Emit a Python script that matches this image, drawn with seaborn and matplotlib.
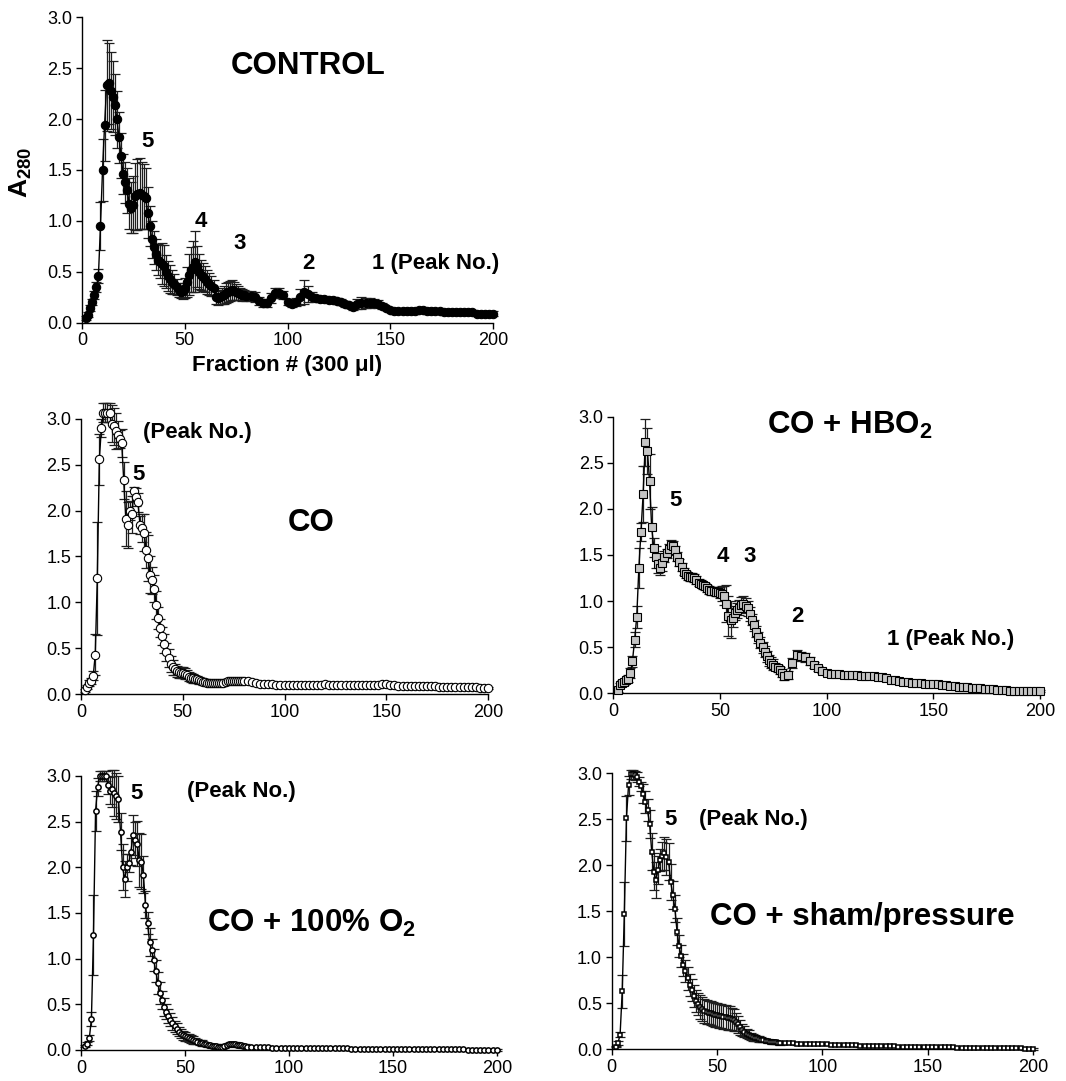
import numpy as np
import pandas as pd
import matplotlib
matplotlib.use('Agg')
import matplotlib.pyplot as plt
import seaborn as sns

sns.set_style("ticks")
plt.rcParams['font.family'] = ['Liberation Sans', 'DejaVu Sans']
plt.rcParams['mathtext.fontset'] = 'custom'
plt.rcParams['mathtext.rm'] = 'Liberation Sans'
plt.rcParams['mathtext.bf'] = 'Liberation Sans:bold'
plt.rcParams['text.color'] = 'black'
plt.rcParams['axes.labelcolor'] = 'black'

# fraction numbers: every fraction up to 80, every second one after that
fractions = list(range(2, 81)) + list(range(82, 201, 2))

control_mean = [
    0.05, 0.08, 0.14, 0.20, 0.27, 0.35, 0.46, 0.95, 1.50, 1.94,
    2.33, 2.35, 2.28, 2.22, 2.14, 2.00, 1.82, 1.64, 1.46, 1.38,
    1.30, 1.17, 1.13, 1.16, 1.24, 1.26, 1.27, 1.25, 1.24, 1.22,
    1.08, 0.95, 0.82, 0.74, 0.67, 0.62, 0.60, 0.58, 0.56, 0.50,
    0.46, 0.43, 0.40, 0.38, 0.35, 0.32, 0.30, 0.31, 0.34, 0.40,
    0.47, 0.52, 0.55, 0.60, 0.55, 0.50, 0.47, 0.45, 0.43, 0.40,
    0.38, 0.36, 0.34, 0.25, 0.24, 0.25, 0.26, 0.27, 0.29, 0.30,
    0.31, 0.32, 0.31, 0.30, 0.29, 0.28, 0.27, 0.27, 0.26,
    0.26, 0.25, 0.21, 0.19, 0.19, 0.24, 0.29, 0.29, 0.27, 0.20,
    0.18, 0.20, 0.25, 0.30, 0.28, 0.25, 0.24, 0.23, 0.23, 0.22,
    0.22, 0.21, 0.20, 0.18, 0.17, 0.15, 0.18, 0.19, 0.19, 0.19,
    0.19, 0.18, 0.16, 0.14, 0.12, 0.11, 0.11, 0.11, 0.11, 0.11,
    0.11, 0.12, 0.12, 0.11, 0.11, 0.11, 0.11, 0.10, 0.10, 0.10,
    0.10, 0.10, 0.10, 0.10, 0.10, 0.09, 0.09, 0.09, 0.09, 0.09,
]
control_sd = [
    0.02, 0.02, 0.03, 0.03, 0.04, 0.05, 0.07, 0.24, 0.30, 0.35,
    0.45, 0.40, 0.38, 0.35, 0.30, 0.28, 0.25, 0.22, 0.20, 0.20,
    0.22, 0.25, 0.25, 0.28, 0.33, 0.35, 0.35, 0.33, 0.32, 0.30,
    0.25, 0.20, 0.18, 0.16, 0.15, 0.15, 0.16, 0.20, 0.20, 0.16,
    0.15, 0.14, 0.12, 0.10, 0.08, 0.07, 0.06, 0.08, 0.10, 0.15,
    0.20, 0.22, 0.25, 0.30, 0.20, 0.17, 0.15, 0.14, 0.13, 0.12,
    0.11, 0.10, 0.08, 0.07, 0.07, 0.07, 0.08, 0.09, 0.10, 0.10,
    0.10, 0.10, 0.09, 0.08, 0.07, 0.06, 0.06, 0.05, 0.05,
    0.05, 0.05, 0.04, 0.04, 0.04, 0.05, 0.05, 0.05, 0.04, 0.03,
    0.03, 0.04, 0.08, 0.12, 0.08, 0.05, 0.03, 0.03, 0.03, 0.03,
    0.03, 0.03, 0.03, 0.03, 0.03, 0.03, 0.05, 0.06, 0.05, 0.05,
    0.04, 0.04, 0.03, 0.02, 0.02, 0.02, 0.02, 0.02, 0.02, 0.02,
    0.02, 0.02, 0.02, 0.02, 0.02, 0.02, 0.02, 0.02, 0.02, 0.02,
    0.02, 0.02, 0.02, 0.02, 0.02, 0.02, 0.02, 0.02, 0.02, 0.02,
]

co_mean = [
    0.04, 0.08, 0.12, 0.14, 0.20, 0.43, 1.26, 2.56, 2.90, 3.07,
    3.07, 3.07, 3.07, 2.95, 2.92, 2.87, 2.83, 2.78, 2.74, 2.33,
    1.91, 1.84, 2.00, 1.96, 2.21, 2.15, 2.09, 1.84, 1.81, 1.76,
    1.57, 1.48, 1.30, 1.24, 1.15, 0.97, 0.83, 0.72, 0.63, 0.55,
    0.46, 0.39, 0.33, 0.29, 0.27, 0.25, 0.24, 0.23, 0.23, 0.22,
    0.21, 0.19, 0.18, 0.17, 0.16, 0.16, 0.15, 0.14, 0.13, 0.13,
    0.12, 0.12, 0.12, 0.12, 0.12, 0.12, 0.12, 0.12, 0.12, 0.13,
    0.14, 0.14, 0.145, 0.145, 0.145, 0.14, 0.14, 0.14, 0.14,
    0.14, 0.135, 0.12, 0.11, 0.11, 0.11, 0.105, 0.10, 0.10, 0.10,
    0.10, 0.10, 0.10, 0.10, 0.10, 0.10, 0.10, 0.10, 0.10, 0.105,
    0.10, 0.10, 0.10, 0.10, 0.10, 0.10, 0.10, 0.10, 0.10, 0.10,
    0.10, 0.10, 0.10, 0.11, 0.105, 0.10, 0.095, 0.09, 0.09, 0.09,
    0.09, 0.09, 0.09, 0.09, 0.085, 0.085, 0.085, 0.08, 0.08, 0.08,
    0.08, 0.08, 0.08, 0.075, 0.075, 0.075, 0.075, 0.07, 0.07, 0.07,
]
co_sd = [
    0.02, 0.02, 0.03, 0.03, 0.05, 0.22, 0.62, 0.28, 0.10, 0.10,
    0.10, 0.10, 0.10, 0.20, 0.20, 0.20, 0.15, 0.10, 0.15, 0.20,
    0.30, 0.25, 0.10, 0.20, 0.05, 0.10, 0.10, 0.10, 0.15, 0.20,
    0.20, 0.25, 0.20, 0.15, 0.15, 0.15, 0.12, 0.10, 0.10, 0.10,
    0.10, 0.10, 0.09, 0.08, 0.06, 0.06, 0.06, 0.06, 0.06, 0.06,
    0.05, 0.05, 0.05, 0.05, 0.04, 0.04, 0.04, 0.03, 0.03, 0.03,
    0.02, 0.02, 0.02, 0.02, 0.02, 0.02, 0.02, 0.02, 0.02, 0.02,
    0.02, 0.02, 0.02, 0.02, 0.02, 0.02, 0.02, 0.02, 0.02,
    0.02, 0.02, 0.02, 0.02, 0.02, 0.02, 0.02, 0.02, 0.02, 0.02,
    0.02, 0.02, 0.02, 0.02, 0.02, 0.02, 0.02, 0.02, 0.02, 0.02,
    0.01, 0.01, 0.01, 0.01, 0.01, 0.01, 0.01, 0.01, 0.01, 0.01,
    0.01, 0.01, 0.01, 0.01, 0.01, 0.01, 0.01, 0.01, 0.01, 0.01,
    0.01, 0.01, 0.01, 0.01, 0.01, 0.01, 0.01, 0.01, 0.01, 0.01,
    0.01, 0.01, 0.01, 0.01, 0.01, 0.01, 0.01, 0.01, 0.01, 0.01,
]

hbo2_mean = [
    0.04, 0.09, 0.11, 0.12, 0.14, 0.16, 0.22, 0.35, 0.58, 0.83,
    1.36, 1.75, 2.16, 2.72, 2.63, 2.30, 1.80, 1.58, 1.48, 1.40,
    1.36, 1.41, 1.48, 1.52, 1.57, 1.61, 1.60, 1.55, 1.48, 1.42,
    1.37, 1.32, 1.29, 1.27, 1.26, 1.26, 1.25, 1.23, 1.20, 1.19,
    1.17, 1.16, 1.14, 1.12, 1.11, 1.11, 1.10, 1.10, 1.09, 1.08,
    1.06, 0.97, 0.84, 0.80, 0.82, 0.87, 0.90, 0.93, 0.96, 0.97,
    0.95, 0.92, 0.86, 0.80, 0.74, 0.67, 0.61, 0.55, 0.50, 0.45,
    0.40, 0.36, 0.33, 0.31, 0.29, 0.27, 0.25, 0.22, 0.19,
    0.20, 0.33, 0.42, 0.40, 0.39, 0.35, 0.31, 0.27, 0.24, 0.22,
    0.21, 0.21, 0.21, 0.20, 0.20, 0.20, 0.20, 0.19, 0.19, 0.19,
    0.19, 0.18, 0.18, 0.17, 0.15, 0.14, 0.13, 0.12, 0.12, 0.11,
    0.11, 0.11, 0.10, 0.10, 0.10, 0.10, 0.09, 0.09, 0.08, 0.08,
    0.07, 0.07, 0.07, 0.06, 0.06, 0.06, 0.05, 0.05, 0.05, 0.04,
    0.04, 0.04, 0.03, 0.03, 0.03, 0.03, 0.03, 0.03, 0.03, 0.03,
]
hbo2_sd = [
    0.02, 0.02, 0.03, 0.03, 0.03, 0.04, 0.05, 0.06, 0.08, 0.12,
    0.22, 0.10, 0.30, 0.25, 0.25, 0.30, 0.22, 0.10, 0.12, 0.10,
    0.08, 0.08, 0.06, 0.05, 0.05, 0.05, 0.05, 0.05, 0.05, 0.04,
    0.04, 0.04, 0.04, 0.04, 0.04, 0.04, 0.04, 0.04, 0.04, 0.04,
    0.04, 0.04, 0.04, 0.04, 0.04, 0.04, 0.04, 0.04, 0.06, 0.08,
    0.10, 0.20, 0.22, 0.20, 0.10, 0.08, 0.08, 0.08, 0.08, 0.08,
    0.08, 0.08, 0.08, 0.06, 0.06, 0.06, 0.06, 0.06, 0.06, 0.06,
    0.06, 0.06, 0.06, 0.06, 0.04, 0.04, 0.04, 0.04, 0.04,
    0.04, 0.05, 0.05, 0.05, 0.05, 0.04, 0.03, 0.03, 0.02, 0.02,
    0.02, 0.02, 0.02, 0.02, 0.02, 0.02, 0.02, 0.02, 0.02, 0.02,
    0.02, 0.02, 0.02, 0.02, 0.02, 0.02, 0.02, 0.02, 0.02, 0.02,
    0.01, 0.01, 0.01, 0.01, 0.01, 0.01, 0.01, 0.01, 0.01, 0.01,
    0.01, 0.01, 0.01, 0.01, 0.01, 0.01, 0.01, 0.01, 0.01, 0.01,
    0.01, 0.01, 0.01, 0.01, 0.01, 0.01, 0.01, 0.01, 0.01, 0.01,
]

o2_mean = [
    0.04, 0.07, 0.13, 0.34, 1.26, 2.62, 2.88, 3.00, 3.00, 3.00,
    3.00, 2.90, 2.84, 2.86, 2.81, 2.78, 2.75, 2.39, 2.00, 1.87,
    2.00, 2.05, 2.17, 2.35, 2.30, 2.26, 2.08, 2.06, 1.92, 1.59,
    1.39, 1.18, 1.09, 0.98, 0.86, 0.73, 0.62, 0.55, 0.47, 0.42,
    0.37, 0.33, 0.29, 0.26, 0.23, 0.20, 0.18, 0.16, 0.15, 0.14,
    0.13, 0.12, 0.11, 0.10, 0.09, 0.08, 0.075, 0.066, 0.06, 0.055,
    0.05, 0.047, 0.044, 0.04, 0.038, 0.036, 0.036, 0.04, 0.05, 0.06,
    0.066, 0.066, 0.062, 0.058, 0.055, 0.05, 0.045, 0.04, 0.038,
    0.036, 0.034, 0.03, 0.03, 0.028, 0.027, 0.026, 0.025, 0.025, 0.025,
    0.024, 0.023, 0.022, 0.022, 0.021, 0.02, 0.02, 0.02, 0.019, 0.018,
    0.018, 0.018, 0.017, 0.017, 0.016, 0.016, 0.015, 0.015, 0.015, 0.014,
    0.014, 0.014, 0.013, 0.013, 0.013, 0.012, 0.012, 0.011, 0.011, 0.011,
    0.010, 0.010, 0.010, 0.009, 0.009, 0.008, 0.008, 0.008, 0.007, 0.007,
    0.006, 0.006, 0.005, 0.005, 0.004, 0.004, 0.003, 0.003, 0.002, 0.002,
]
o2_sd = [
    0.01, 0.02, 0.03, 0.08, 0.44, 0.22, 0.10, 0.05, 0.05, 0.05,
    0.05, 0.10, 0.15, 0.20, 0.25, 0.25, 0.25, 0.20, 0.25, 0.20,
    0.15, 0.10, 0.15, 0.22, 0.20, 0.25, 0.30, 0.30, 0.20, 0.15,
    0.12, 0.15, 0.12, 0.12, 0.12, 0.12, 0.12, 0.10, 0.10, 0.08,
    0.08, 0.07, 0.07, 0.06, 0.06, 0.05, 0.05, 0.05, 0.05, 0.04,
    0.04, 0.04, 0.04, 0.03, 0.03, 0.03, 0.03, 0.02, 0.02, 0.02,
    0.02, 0.02, 0.02, 0.02, 0.02, 0.02, 0.02, 0.02, 0.02, 0.02,
    0.02, 0.02, 0.02, 0.02, 0.02, 0.02, 0.02, 0.02, 0.02,
    0.01, 0.01, 0.01, 0.01, 0.01, 0.01, 0.01, 0.01, 0.01, 0.01,
    0.01, 0.01, 0.01, 0.01, 0.01, 0.01, 0.01, 0.01, 0.01, 0.01,
    0.01, 0.01, 0.01, 0.01, 0.01, 0.01, 0.01, 0.01, 0.01, 0.01,
    0.01, 0.01, 0.01, 0.01, 0.01, 0.01, 0.01, 0.01, 0.01, 0.01,
    0.01, 0.01, 0.01, 0.01, 0.01, 0.01, 0.01, 0.01, 0.01, 0.01,
    0.01, 0.01, 0.01, 0.01, 0.01, 0.01, 0.01, 0.01, 0.01, 0.01,
]

sham_mean = [
    0.03, 0.07, 0.16, 0.63, 1.47, 2.51, 2.87, 2.99, 2.99, 2.98,
    2.96, 2.91, 2.86, 2.78, 2.69, 2.60, 2.45, 2.15, 1.93, 1.84,
    1.95, 2.06, 2.10, 2.13, 2.09, 2.04, 1.82, 1.68, 1.53, 1.28,
    1.12, 1.01, 0.92, 0.85, 0.77, 0.70, 0.64, 0.58, 0.53, 0.49,
    0.46, 0.44, 0.42, 0.41, 0.40, 0.39, 0.38, 0.375, 0.37, 0.365,
    0.36, 0.355, 0.35, 0.345, 0.34, 0.33, 0.32, 0.30, 0.27, 0.24,
    0.21, 0.19, 0.17, 0.16, 0.14, 0.13, 0.125, 0.12, 0.11, 0.105,
    0.10, 0.095, 0.09, 0.085, 0.08, 0.078, 0.075, 0.073, 0.072,
    0.07, 0.068, 0.065, 0.062, 0.06, 0.058, 0.057, 0.056, 0.055, 0.054,
    0.053, 0.052, 0.05, 0.047, 0.046, 0.045, 0.044, 0.042, 0.04, 0.038,
    0.037, 0.036, 0.035, 0.034, 0.033, 0.032, 0.031, 0.03, 0.029, 0.028,
    0.027, 0.026, 0.025, 0.024, 0.023, 0.023, 0.022, 0.022, 0.021, 0.02,
    0.02, 0.019, 0.018, 0.018, 0.017, 0.016, 0.015, 0.015, 0.014, 0.013,
    0.012, 0.012, 0.011, 0.01, 0.01, 0.009, 0.009, 0.008, 0.008, 0.007,
]
sham_sd = [
    0.01, 0.02, 0.03, 0.18, 0.35, 0.24, 0.10, 0.05, 0.05, 0.05,
    0.05, 0.05, 0.05, 0.10, 0.12, 0.12, 0.15, 0.20, 0.20, 0.20,
    0.15, 0.12, 0.15, 0.18, 0.20, 0.20, 0.20, 0.15, 0.15, 0.15,
    0.12, 0.12, 0.12, 0.12, 0.12, 0.12, 0.12, 0.12, 0.12, 0.12,
    0.13, 0.13, 0.13, 0.13, 0.13, 0.13, 0.13, 0.13, 0.13, 0.13,
    0.13, 0.13, 0.13, 0.13, 0.13, 0.12, 0.12, 0.10, 0.09, 0.08,
    0.07, 0.06, 0.05, 0.05, 0.04, 0.04, 0.03, 0.03, 0.03, 0.03,
    0.02, 0.02, 0.02, 0.02, 0.02, 0.02, 0.02, 0.02, 0.02,
    0.01, 0.01, 0.01, 0.01, 0.01, 0.01, 0.01, 0.01, 0.01, 0.01,
    0.01, 0.01, 0.01, 0.01, 0.01, 0.01, 0.01, 0.01, 0.01, 0.01,
    0.01, 0.01, 0.01, 0.01, 0.01, 0.01, 0.01, 0.01, 0.01, 0.01,
    0.01, 0.01, 0.01, 0.01, 0.01, 0.01, 0.01, 0.01, 0.01, 0.01,
    0.01, 0.01, 0.01, 0.01, 0.01, 0.01, 0.01, 0.01, 0.01, 0.01,
    0.01, 0.01, 0.01, 0.01, 0.01, 0.01, 0.01, 0.01, 0.01, 0.01,
]


def panel(ax, mean, sd, marker, ms, mfc, mew):
    df = pd.DataFrame({'fraction': fractions, 'a280': mean, 'sd': sd})
    ax.errorbar(df['fraction'], df['a280'], yerr=df['sd'], fmt='none',
                ecolor='#1e1e1e', elinewidth=0.9, capsize=3.5, capthick=0.9,
                zorder=2, clip_on=False)
    sns.lineplot(data=df, x='fraction', y='a280', ax=ax, color='black', lw=1,
                 marker=marker, markersize=ms, markerfacecolor=mfc,
                 markeredgecolor='black', markeredgewidth=mew,
                 zorder=3, clip_on=False, errorbar=None)
    ax.set_xlim(0, 200)
    ax.set_ylim(0, 3.0)
    ax.set_xticks([0, 50, 100, 150, 200])
    ax.set_yticks([0, 0.5, 1.0, 1.5, 2.0, 2.5, 3.0])
    ax.set_yticklabels(['0.0', '0.5', '1.0', '1.5', '2.0', '2.5', '3.0'])
    ax.tick_params(direction='out', length=4, width=1, labelsize=13,
                   colors='black', pad=3)
    for s in ['left', 'bottom']:
        ax.spines[s].set_linewidth(1)
        ax.spines[s].set_color('black')
    sns.despine(ax=ax)
    ax.set_xlabel('')
    ax.set_ylabel('')


fig = plt.figure(figsize=(10.66, 10.81), dpi=100)

ax1 = fig.add_axes([0.0769, 0.7015, 0.3856, 0.2825])
ax2 = fig.add_axes([0.0760, 0.3580, 0.3818, 0.2544])
ax3 = fig.add_axes([0.5753, 0.3586, 0.4003, 0.2560])
ax4 = fig.add_axes([0.0760, 0.0287, 0.3900, 0.2535])
ax5 = fig.add_axes([0.5738, 0.0293, 0.3955, 0.2553])

panel(ax1, control_mean, control_sd, 'o', 6.0, 'black', 0.8)
panel(ax2, co_mean, co_sd, 'o', 6.0, 'white', 0.8)
panel(ax3, hbo2_mean, hbo2_sd, 's', 5.2, '#c4c4c4', 0.8)
panel(ax4, o2_mean, o2_sd, 'o', 3.8, 'white', 1.1)
panel(ax5, sham_mean, sham_sd, 's', 3.4, 'white', 1.1)

big = dict(fontsize=22.5, fontweight='bold', ha='center', va='center')
small = dict(fontsize=16, fontweight='bold', ha='center', va='center')

# CONTROL
ax1.text(110, 2.52, 'CONTROL', **big)
ax1.text(32, 1.78, '5', **small)
ax1.text(58, 0.99, '4', **small)
ax1.text(76.5, 0.78, '3', **small)
ax1.text(110, 0.58, '2', **small)
ax1.text(172, 0.58, '1 (Peak No.)', **small)
ax1.set_xlabel('Fraction # (300 μl)', fontsize=16, fontweight='bold', labelpad=4)

# CO
ax2.text(113, 1.86, 'CO', **big)
ax2.text(57, 2.85, '(Peak No.)', **small)
ax2.text(28.2, 2.39, '5', **small)

# CO + HBO2
ax3.text(111, 2.90, r'CO + HBO$_\mathbf{2}$', **big)
ax3.text(29, 2.09, '5', **small)
ax3.text(51.3, 1.48, '4', **small)
ax3.text(63.8, 1.48, '3', **small)
ax3.text(86.3, 0.83, '2', **small)
ax3.text(158, 0.58, '1 (Peak No.)', **small)

# CO + 100% O2
ax4.text(111, 1.38, r'CO + 100% O$_\mathbf{2}$', **big)
ax4.text(26.5, 2.81, '5', **small)
ax4.text(77, 2.83, '(Peak No.)', **small)

# CO + sham/pressure
ax5.text(119, 1.44, 'CO + sham/pressure', **big)
ax5.text(28.1, 2.5, '5', **small)
ax5.text(67, 2.5, '(Peak No.)', **small)

fig.text(21 / 1066, 1 - 172 / 1081, r'$\mathbf{A_{280}}$', rotation=90,
         fontsize=19, ha='center', va='center')

fig.savefig('out.png', dpi=100)
